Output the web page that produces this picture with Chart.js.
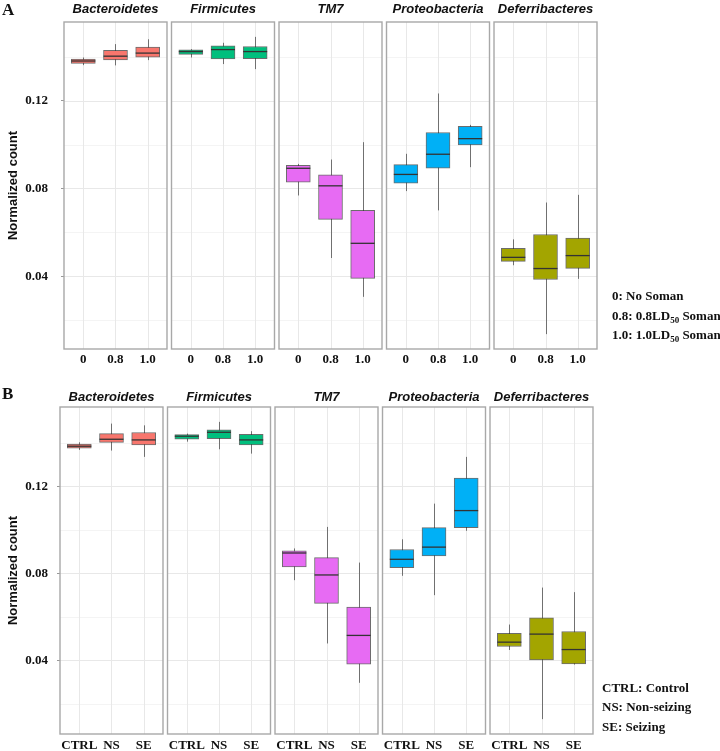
<!DOCTYPE html>
<html>
<head>
<meta charset="utf-8">
<script src="https://cdn.jsdelivr.net/npm/chart.js@4.4.1/dist/chart.umd.min.js"></script>
<style>
  body { margin: 0; width: 720px; height: 751px; overflow: hidden; background: #fff; position: relative; }
  canvas { position: absolute; left: 0; }
  .txt { position: absolute; font-family: "Liberation Serif", "Times New Roman", serif; font-weight: bold; color: #111; white-space: nowrap; }
  .tag { font-size: 17px; line-height: 17px; }
  .leg { font-size: 13px; line-height: 16px; }
  .leg sub { font-size: 9px; line-height: 0; vertical-align: -3px; }
</style>
</head>
<body>
<canvas id="chartA" width="720" height="372" style="top:0"></canvas>
<canvas id="chartB" width="720" height="366" style="top:385px"></canvas>

<div class="txt tag" style="left:2px;top:1px">A</div>
<div class="txt tag" style="left:2px;top:385px">B</div>
<div class="txt leg" style="left:612px;top:288px">0: No Soman</div>
<div class="txt leg" style="left:612px;top:308px">0.8: 0.8LD<sub>50</sub> Soman</div>
<div class="txt leg" style="left:612px;top:327px">1.0: 1.0LD<sub>50</sub> Soman</div>
<div class="txt leg" style="left:602px;top:680px">CTRL: Control</div>
<div class="txt leg" style="left:602px;top:699px">NS: Non-seizing</div>
<div class="txt leg" style="left:602px;top:719px">SE: Seizing</div>

<script>
// phyla (facets) and groups
var phyla = ['Bacteroidetes', 'Firmicutes', 'TM7', 'Proteobacteria', 'Deferribacteres'];
var colours = ['#F8766D', '#00BF7D', '#E76BF3', '#00B0F6', '#A3A500'];
var groupsA = ['0', '0.8', '1.0'];
var groupsB = ['CTRL', 'NS', 'SE'];
var yTicks = [0.04, 0.08, 0.12];
var yMinor = [0.02, 0.06, 0.10, 0.14];

// panel A (soman dose) - one row per phylum, one value per group
var aMin = [[0.1362, 0.1361, 0.1385], [0.1397, 0.1367, 0.1344], [0.0768, 0.0483, 0.0306], [0.0788, 0.0700, 0.0897], [0.0450, 0.0136, 0.0388]];
var aQ1  = [[0.1370, 0.1386, 0.1399], [0.1411, 0.1391, 0.1392], [0.0829, 0.0659, 0.0390], [0.0824, 0.0892, 0.0999], [0.0468, 0.0385, 0.0436]];
var aMed = [[0.1381, 0.1403, 0.1417], [0.1424, 0.1433, 0.1424], [0.0892, 0.0812, 0.0550], [0.0864, 0.0956, 0.1027], [0.0486, 0.0435, 0.0494]];
var aQ3  = [[0.1390, 0.1430, 0.1444], [0.1432, 0.1450, 0.1447], [0.0905, 0.0862, 0.0700], [0.0909, 0.1055, 0.1083], [0.0527, 0.0590, 0.0574]];
var aMax = [[0.1397, 0.1458, 0.1480], [0.1435, 0.1464, 0.1491], [0.0912, 0.0932, 0.1011], [0.0958, 0.1233, 0.1090], [0.0568, 0.0736, 0.0771]];

// panel B (seizure status)
var bMin = [[0.1367, 0.1364, 0.1335], [0.1405, 0.1370, 0.1350], [0.0768, 0.0477, 0.0296], [0.0788, 0.0699, 0.0995], [0.0447, 0.0129, 0.0380]];
var bQ1  = [[0.1375, 0.1402, 0.1390], [0.1416, 0.1419, 0.1390], [0.0829, 0.0661, 0.0382], [0.0825, 0.0880, 0.1010], [0.0463, 0.0401, 0.0383]];
var bMed = [[0.1384, 0.1416, 0.1413], [0.1430, 0.1448, 0.1413], [0.0893, 0.0792, 0.0514], [0.0864, 0.0920, 0.1088], [0.0483, 0.0520, 0.0449]];
var bQ3  = [[0.1394, 0.1442, 0.1447], [0.1438, 0.1459, 0.1439], [0.0903, 0.0872, 0.0644], [0.0909, 0.1010, 0.1237], [0.0524, 0.0595, 0.0532]];
var bMax = [[0.1402, 0.1488, 0.1480], [0.1442, 0.1496, 0.1453], [0.0914, 0.1013, 0.0849], [0.0956, 0.1120, 0.1335], [0.0564, 0.0734, 0.0713]];

// facet geometry in x units (ggplot style: 0.6 expansion each side)
var FACET = 3.2, GAP = 0.14;
function facetStart(i) { return i * (FACET + GAP); }
function centre(i, j) { return facetStart(i) + 0.6 + j; }

var serif = '"Liberation Serif", "Times New Roman", serif';
var sans = '"Liberation Sans", Arial, sans-serif';

function line(ctx, x0, y0, x1, y1) {
    ctx.beginPath(); ctx.moveTo(x0, y0); ctx.lineTo(x1, y1); ctx.stroke();
}

function facetPlugin(st, groups, stripGap) {
    return {
        id: 'facets',
        beforeDatasetsDraw: function (chart) {
            var ctx = chart.ctx, a = chart.chartArea, x = chart.scales.x, y = chart.scales.y;
            ctx.save();
            ctx.lineWidth = 1;
            phyla.forEach(function (p, i) {
                var x0 = x.getPixelForValue(facetStart(i)), x1 = x.getPixelForValue(facetStart(i) + FACET);
                ctx.strokeStyle = '#f4f4f4';
                yMinor.forEach(function (v) { var py = Math.round(y.getPixelForValue(v)) + 0.5; line(ctx, x0, py, x1, py); });
                ctx.strokeStyle = '#e8e8e8';
                yTicks.forEach(function (v) { var py = Math.round(y.getPixelForValue(v)) + 0.5; line(ctx, x0, py, x1, py); });
                groups.forEach(function (g, j) { var px = Math.round(x.getPixelForValue(centre(i, j))) + 0.5; line(ctx, px, a.top, px, a.bottom); });
                // whiskers
                ctx.strokeStyle = '#707070';
                groups.forEach(function (g, j) {
                    var px = Math.round(x.getPixelForValue(centre(i, j))) + 0.5;
                    line(ctx, px, y.getPixelForValue(st.min[i][j]), px, y.getPixelForValue(st.max[i][j]));
                });
            });
            ctx.restore();
        },
        afterDatasetsDraw: function (chart) {
            var ctx = chart.ctx, a = chart.chartArea, x = chart.scales.x, y = chart.scales.y;
            ctx.save();
            phyla.forEach(function (p, i) {
                var meta = chart.getDatasetMeta(i);
                ctx.strokeStyle = '#333';
                ctx.lineWidth = 1.3;
                groups.forEach(function (g, j) {
                    var bar = meta.data[j], py = y.getPixelForValue(st.med[i][j]);
                    line(ctx, bar.x - bar.width / 2, py, bar.x + bar.width / 2, py);
                });
                var x0 = x.getPixelForValue(facetStart(i)), x1 = x.getPixelForValue(facetStart(i) + FACET);
                ctx.strokeStyle = '#a8a8a8';
                ctx.lineWidth = 1.4;
                ctx.strokeRect(x0, a.top, x1 - x0, a.bottom - a.top);
                ctx.fillStyle = '#111';
                ctx.font = 'italic bold 13px ' + sans;
                ctx.textAlign = 'center';
                ctx.textBaseline = 'middle';
                ctx.fillText(p, (x0 + x1) / 2, a.top - stripGap);
            });
            ctx.restore();
        }
    };
}

function boxPanel(id, groups, st, lay) {
    var all = [].concat.apply([], st.min).concat([].concat.apply([], st.max));
    var lo = Math.min.apply(null, all), hi = Math.max.apply(null, all), pad = (hi - lo) * 0.05;
    var datasets = phyla.map(function (p, i) {
        return {
            label: p,
            data: groups.map(function (g, j) { return { x: centre(i, j), y: [st.q1[i][j], st.q3[i][j]] }; }),
            backgroundColor: colours[i],
            borderColor: 'rgba(45,45,45,0.7)',
            borderWidth: 1,
            borderSkipped: false,
            barThickness: 24,
            grouped: false
        };
    });
    return new Chart(document.getElementById(id), {
        type: 'bar',
        data: { datasets: datasets },
        plugins: [facetPlugin(st, groups, lay.strip)],
        options: {
            responsive: false,
            animation: false,
            devicePixelRatio: 1,
            layout: { padding: { top: lay.top, right: lay.right, left: 0, bottom: 0 } },
            plugins: { legend: { display: false }, tooltip: { enabled: false } },
            scales: {
                x: {
                    type: 'linear', min: 0, max: 5 * FACET + 4 * GAP, offset: false,
                    grid: { display: false, drawTicks: false },
                    border: { display: false },
                    afterBuildTicks: function (s) {
                        var t = [];
                        phyla.forEach(function (p, i) { groups.forEach(function (g, j) { t.push({ value: centre(i, j) }); }); });
                        s.ticks = t;
                    },
                    ticks: {
                        autoSkip: false, maxRotation: 0, padding: lay.xPad, color: '#111',
                        font: { family: serif, weight: 'bold', size: 13 },
                        callback: function (v, k) { return groups[k % 3]; }
                    },
                    afterFit: function (s) { s.height = lay.xH; }
                },
                y: {
                    min: lo - pad, max: hi + pad,
                    afterBuildTicks: function (s) { s.ticks = yTicks.map(function (v) { return { value: v }; }); },
                    grid: { drawOnChartArea: false, drawTicks: true, tickLength: 3, color: '#999' },
                    border: { display: false },
                    ticks: {
                        padding: lay.yPad, color: '#111',
                        font: { family: serif, weight: 'bold', size: 13 },
                        callback: function (v) { return v.toFixed(2); }
                    },
                    title: {
                        display: true, text: 'Normalized count', color: '#111',
                        font: { family: sans, weight: 'bold', size: 13 },
                        padding: { top: 6, bottom: 0 }
                    },
                    afterFit: function (s) { s.width = lay.yW; }
                }
            }
        }
    });
}

boxPanel('chartA', groupsA, { min: aMin, q1: aQ1, med: aMed, q3: aQ3, max: aMax },
    { top: 22, right: 123, xH: 23, xPad: 3, yW: 64, yPad: 13, strip: 13 });
boxPanel('chartB', groupsB, { min: bMin, q1: bQ1, med: bMed, q3: bQ3, max: bMax },
    { top: 22, right: 127, xH: 17, xPad: 4, yW: 60, yPad: 9, strip: 10 });
</script>
</body>
</html>
